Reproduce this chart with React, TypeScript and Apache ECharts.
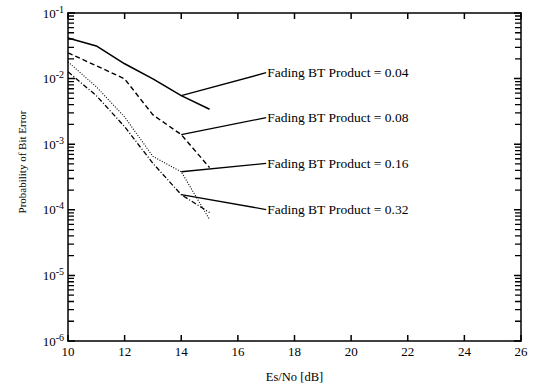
import React, { useEffect, useRef } from 'react';
import * as echarts from 'echarts';

// Es/No in dB
const snrDb = [10, 11, 12, 13, 14, 15];
// Probability of bit error per fading BT product
const ber004 = [0.0417, 0.0315, 0.0168, 0.0099, 0.0055, 0.0034];
const ber008 = [0.0247, 0.0157, 0.0099, 0.0028, 0.0014, 0.00044];
const ber016 = [0.018, 0.0075, 0.0026, 0.00065, 0.00038, 0.000071];
const ber032 = [0.0127, 0.0055, 0.00185, 0.00051, 0.00017, 0.000091];

const curveNames = [
  'Fading BT Product = 0.04',
  'Fading BT Product = 0.08',
  'Fading BT Product = 0.16',
  'Fading BT Product = 0.32',
];
// leader lines: from curve at leaderFromX to label anchor
const leaderFromX = 14;
const labelAnchorX = 17;
const labelAnchorY = [0.0123, 0.00254, 0.00051, 0.000101];

const xMin = 10;
const xMax = 26;
const xStep = 2;
const xTickValues = [10, 12, 14, 16, 18, 20, 22, 24, 26];
// y axis in decades (log10 of probability)
const yMinExp = -6;
const yMaxExp = -1;
const majorExps = [-6, -5, -4, -3, -2, -1];
const minorMultipliers = [2, 3, 4, 5, 6, 7, 8, 9];
const decadeExponents = [-6, -5, -4, -3, -2];

const FONT = '"Liberation Serif", "Times New Roman", serif';
const lg = (v: number) => Math.log10(v);

const W = 540;
const H = 388;
const GRID = { left: 68, right: 19, top: 13, bottom: 46 };

export default function App() {
  const ref = useRef<HTMLDivElement>(null);

  useEffect(() => {
    if (!ref.current) return;
    const chart = echarts.init(ref.current, undefined, { renderer: 'svg' });

    const curves = [ber004, ber008, ber016, ber032];
    const lineTypes: any[] = ['solid', [5, 3], [1, 1.6], [5, 2, 1, 2]];
    const lineWidths = [1.6, 1.4, 1.1, 1.3];

    const minorTickExps: number[] = [];
    decadeExponents.forEach((e) => {
      minorMultipliers.forEach((m) => {
        minorTickExps.push(lg(m * Math.pow(10, e)));
      });
    });

    // tick length converted from pixels to data units of the grid
    const plotW = W - GRID.left - GRID.right;
    const plotH = H - GRID.top - GRID.bottom;
    const xPerPx = (xMax - xMin) / plotW;
    const yPerPx = (yMaxExp - yMinExp) / plotH;

    const hTicks = (exps: number[], atX: number, dir: number, lenPx: number) => {
      const out: any[] = [];
      exps.forEach((e) => {
        out.push([atX, e]);
        out.push([atX + dir * lenPx * xPerPx, e]);
        out.push([atX, '-']);
      });
      return out;
    };
    const vTicks = (xs: number[], atY: number, dir: number, lenPx: number) => {
      const out: any[] = [];
      xs.forEach((x) => {
        out.push([x, atY]);
        out.push([x, atY + dir * lenPx * yPerPx]);
        out.push([x, '-']);
      });
      return out;
    };

    const tickSeries = (name: string, data: any[], width: number) => ({
      type: 'line',
      name,
      xAxisIndex: 0,
      yAxisIndex: 0,
      data,
      symbol: 'none',
      connectNulls: false,
      clip: false,
      silent: true,
      lineStyle: { color: '#000', width, type: 'solid' },
      z: 5,
    });

    const curveSeries = curves.map((vals, i) => ({
      type: 'line',
      name: curveNames[i],
      xAxisIndex: 0,
      yAxisIndex: 0,
      data: snrDb.map((x, j) => [x, lg(vals[j])]),
      symbol: 'none',
      lineStyle: { color: '#000', width: lineWidths[i], type: lineTypes[i] },
      z: 3,
    }));

    const leaderSeries = curves.map((vals, i) => ({
      type: 'line',
      name: 'leader ' + curveNames[i],
      xAxisIndex: 0,
      yAxisIndex: 0,
      data: [
        [leaderFromX, lg(vals[snrDb.indexOf(leaderFromX)])],
        [labelAnchorX, lg(labelAnchorY[i])],
      ],
      symbol: 'none',
      endLabel: {
        show: true,
        distance: 1,
        formatter: curveNames[i],
        color: '#000',
        fontFamily: FONT,
        fontSize: 13.5,
      },
      lineStyle: { color: '#000', width: 1.3, type: 'solid' },
      z: 4,
    }));

    const option: any = {
      animation: false,
      backgroundColor: '#fff',
      grid: { ...GRID, containLabel: false },
      xAxis: [
        {
          type: 'value',
          min: xMin,
          max: xMax,
          interval: xStep,
          position: 'bottom',
          name: 'Es/No [dB]',
          nameLocation: 'middle',
          nameGap: 29,
          nameTextStyle: { color: '#000', fontFamily: FONT, fontSize: 12.5 },
          axisLine: { show: true, lineStyle: { color: '#000', width: 1.5 } },
          axisTick: { show: false },
          axisLabel: { color: '#000', fontFamily: FONT, fontSize: 13, margin: 4 },
          splitLine: { show: false },
        },
        {
          type: 'value',
          min: xMin,
          max: xMax,
          interval: xStep,
          position: 'top',
          axisLine: { show: true, lineStyle: { color: '#000', width: 1.5 } },
          axisTick: { show: false },
          axisLabel: { show: false },
          splitLine: { show: false },
        },
      ],
      yAxis: [
        {
          type: 'value',
          min: yMinExp,
          max: yMaxExp,
          interval: 1,
          position: 'left',
          axisLine: { show: true, lineStyle: { color: '#000', width: 1.5 } },
          axisTick: { show: false },
          axisLabel: {
            color: '#000',
            margin: 4,
            formatter: (v: number) => '{b|10}{s|' + Math.round(v) + '}',
            rich: {
              b: { fontFamily: FONT, fontSize: 13, color: '#000' },
              s: { fontFamily: FONT, fontSize: 10, color: '#000', verticalAlign: 'top', padding: [0, 0, 8, 0] },
            },
          },
          splitLine: { show: false },
        },
        {
          type: 'value',
          min: yMinExp,
          max: yMaxExp,
          interval: 1,
          position: 'right',
          axisLine: { show: true, lineStyle: { color: '#000', width: 1.5 } },
          axisTick: { show: false },
          axisLabel: { show: false },
          splitLine: { show: false },
        },
      ],
      graphic: [
        {
          type: 'text',
          x: 22,
          y: 162,
          rotation: Math.PI / 2,
          style: {
            text: 'Probability of Bit Error',
            fill: '#000',
            font: '11px ' + FONT,
            align: 'center',
            verticalAlign: 'middle',
          },
        },
      ],
      series: [
        ...curveSeries,
        ...leaderSeries,
        tickSeries('minor left', hTicks(minorTickExps, xMin, 1, 6), 1.3),
        tickSeries('minor right', hTicks(minorTickExps, xMax, -1, 6), 1.3),
        tickSeries('major left', hTicks(majorExps, xMin, 1, 7), 1.5),
        tickSeries('major right', hTicks(majorExps, xMax, -1, 7), 1.5),
        tickSeries('x bottom', vTicks(xTickValues, yMinExp, 1, 6), 1.5),
        tickSeries('x top', vTicks(xTickValues, yMaxExp, -1, 6), 1.5),
      ],
    };

    chart.setOption(option);
    return () => chart.dispose();
  }, []);

  return (
    <div
      ref={ref}
      style={{ position: 'fixed', left: 0, top: 0, width: W, height: H, background: '#fff' }}
    />
  );
}
